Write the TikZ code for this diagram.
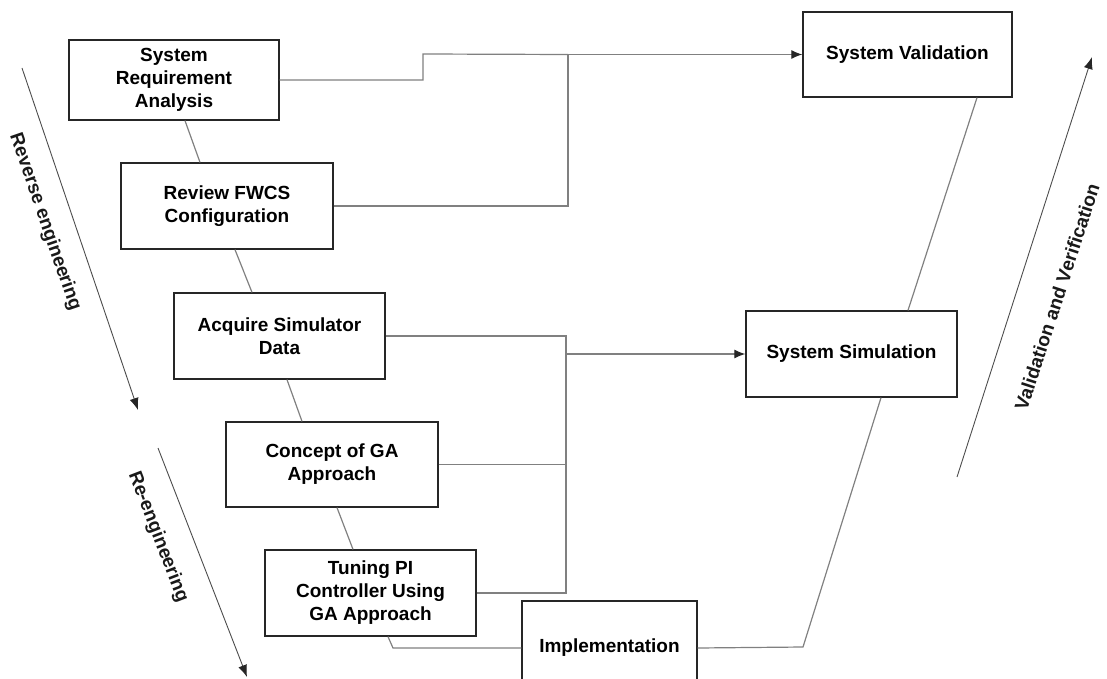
\documentclass[tikz,border=0pt]{standalone}
\usepackage{fontspec}
\setmainfont{Liberation Sans}
\usetikzlibrary{arrows.meta,calc}
\begin{document}
\begin{tikzpicture}[x=1pt,y=-1pt,
  box/.style={draw=black!85,line width=1.3pt,fill=white,align=center,
    font=\bfseries\fontsize{19}{23}\selectfont,inner sep=0pt},
  conn/.style={draw=black!50,line width=1.2pt},
  arr/.style={conn,-{Latex[length=11pt,width=9pt,color=black!85]}},
  side/.style={draw=black!70,line width=0.9pt,-{Latex[length=12pt,width=9pt,color=black!85]}},
  sidelabel/.style={font=\bfseries\fontsize{19}{23}\selectfont,inner sep=0pt,text=black!90}]
\useasboundingbox (0,0) rectangle (1107,679);
\clip (0,0) rectangle (1107,679);

% boxes
\node[box,minimum width=210,minimum height=80] (sra) at (174,80) {System\\Requirement\\Analysis};
\node[box,minimum width=212,minimum height=86] (rfw) at (227,206) {Review FWCS\\Configuration};
\node[box,minimum width=211,minimum height=86] (asd) at (279.5,336) {Acquire Simulator\\Data};
\node[box,minimum width=212,minimum height=85] (cga) at (332,464.5) {Concept of GA\\Approach};
\node[box,minimum width=211,minimum height=86] (tpi) at (370.5,593) {Tuning PI\\Controller Using\\GA Approach};
\node[box,minimum width=175,minimum height=94] (imp) at (609.5,648) {Implementation};
\node[box,minimum width=209,minimum height=85] (sv) at (907.5,54.5) {System Validation};
\node[box,minimum width=211,minimum height=86] (ss) at (851.5,354) {System Simulation};

% V chain
\draw[conn] ([xshift=11]sra.south) -- ([xshift=-27]rfw.north);
\draw[conn] ([xshift=8]rfw.south) -- ([xshift=-27.5]asd.north);
\draw[conn] ([xshift=7.5]asd.south) -- ([xshift=-30]cga.north);
\draw[conn] ([xshift=5]cga.south) -- ([xshift=-17.5]tpi.north);
\coordinate (vb) at (393,648);
\draw[conn] ([xshift=17.5]tpi.south) -- (vb) -- (imp.west);
\coordinate (vr) at (803,647);
\draw[conn] (imp.east) -- (vr) -- ([xshift=29.5]ss.south);
\draw[conn] ([xshift=56.5]ss.north) -- ([xshift=69.5]sv.south);

% top feedback to System Validation
\coordinate (j1) at (568,54.5);
\coordinate (st) at (423,54);
\draw[conn] (sra.east) -| (st) -- (j1);
\draw[conn] (rfw.east) -| (j1);
\draw[arr] (j1) -- (sv.west);

% feedback to System Simulation
\coordinate (bx) at (566,354);
\draw[conn] (asd.east) -| (bx |- tpi.east) -- (tpi.east);
\draw[conn] (cga.east) -- (cga.east -| bx);
\draw[arr] (bx) -- (ss.west);

% side arrows
\coordinate (r1) at (22,68);
\coordinate (r2) at (138,410);
\draw[side] (r1) -- (r2);
\node[sidelabel,rotate=-71] (rl) at (45,222) {Reverse engineering};

\coordinate (e1) at (158,448);
\coordinate (e2) at (247,677);
\draw[side] (e1) -- (e2);
\node[sidelabel,rotate=-69] (el) at (158,537) {Re-engineering};

\coordinate (v1) at (957,477);
\coordinate (v2) at (1092,57);
\draw[side] (v1) -- (v2);
\node[sidelabel,rotate=72] (vl) at (1057,297) {Validation and Verification};
\end{tikzpicture}
\end{document}
